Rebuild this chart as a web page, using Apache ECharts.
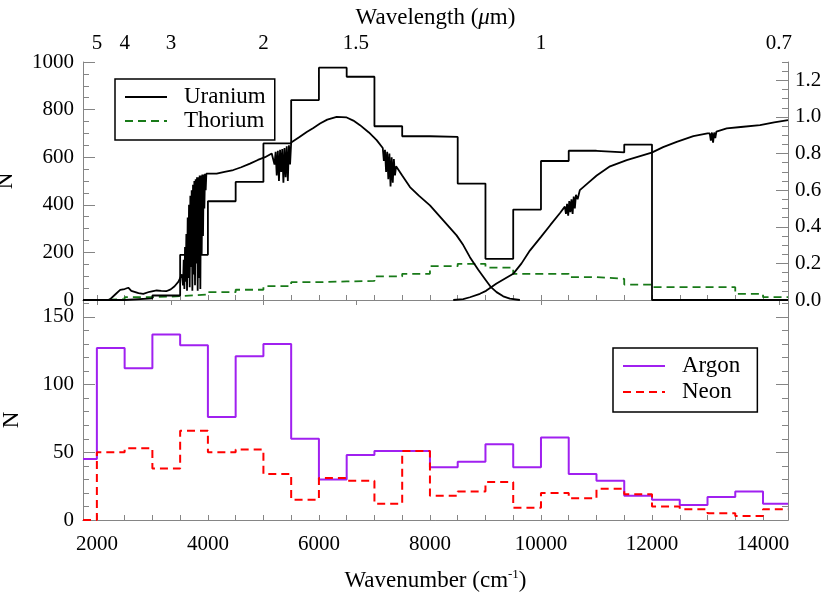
<!DOCTYPE html>
<html>
<head>
<meta charset="utf-8">
<script src="https://cdn.jsdelivr.net/npm/echarts@6/dist/echarts.min.js"></script>
<style>
  html, body { margin: 0; padding: 0; background: #fff; }
  #chart { width: 830px; height: 612px; }
</style>
</head>
<body>
<div id="chart"></div>
<script>
// wavenumber bin edges (cm^-1), 500 wide apart from the two end bins
const binEdges = [1750, 2000, 2500, 3000, 3500, 4000, 4500, 5000, 5500, 6000, 6500, 7000, 7500,
  8000, 8500, 9000, 9500, 10000, 10500, 11000, 11500, 12000, 12500, 13000, 13500, 14000, 14450];

// top panel: line counts per bin
const uranium = [0, 0, 7, 19, 190, 415, 496, 658, 840, 976, 938, 730, 688,
  685, 489, 173, 380, 584, 627, 620, 653, 0, 0, 0, 0, 0];
const thorium = [0, 3, 12, 16, 23, 33, 43, 58, 75, 78, 80, 99, 110,
  142, 152, 136, 110, 110, 96, 89, 65, 54, 54, 54, 26, 12];

// bottom panel: line counts per bin
const argon = [45, 127, 112, 137, 129, 76, 121, 130, 60, 30, 48, 51, 51,
  39, 43, 56, 39, 61, 34, 29, 18, 15, 11, 17, 21, 12];
const neon = [0, 50, 53, 38, 66, 50, 52, 34, 15, 31, 29, 12, 51,
  18, 21, 28, 9, 20, 16, 23, 19, 10, 8, 5, 3, 8];

// transmission curves (right axis), [wavenumber, throughput]
const transmissionA = [
  [1750, 0], [2200, 0], [2240, 0.005], [2330, 0.03], [2420, 0.055], [2500, 0.06], [2566, 0.067],
  [2620, 0.05], [2656, 0.043], [2750, 0.037], [2836, 0.034], [2950, 0.045], [3077, 0.052],
  [3160, 0.05], [3250, 0.048], [3330, 0.058], [3400, 0.075], [3470, 0.1], [3530, 0.14],
  [3540, 0.15], [3552, 0.08], [3564, 0.22], [3576, 0.06], [3588, 0.29], [3600, 0.1], [3612, 0.36],
  [3624, 0.05], [3636, 0.45], [3648, 0.12], [3660, 0.52], [3672, 0.07], [3684, 0.57], [3696, 0.18],
  [3708, 0.6], [3720, 0.05], [3732, 0.63], [3744, 0.14], [3756, 0.65], [3768, 0.08], [3780, 0.66],
  [3792, 0.2], [3804, 0.67], [3816, 0.05], [3828, 0.67], [3840, 0.12], [3852, 0.68], [3864, 0.06],
  [3876, 0.68], [3888, 0.25], [3900, 0.685], [3912, 0.35], [3924, 0.685], [3936, 0.5], [3948, 0.69],
  [3960, 0.6], [3972, 0.69],
  [4000, 0.69], [4158, 0.69], [4300, 0.7], [4458, 0.71], [4600, 0.725], [4758, 0.745],
  [4900, 0.765], [5029, 0.78], [5150, 0.8],
  [5180, 0.805], [5200, 0.74], [5220, 0.81], [5240, 0.68], [5260, 0.815], [5280, 0.65], [5300, 0.82],
  [5320, 0.7], [5340, 0.825], [5360, 0.64], [5380, 0.83], [5400, 0.67], [5420, 0.84], [5440, 0.65],
  [5460, 0.845], [5480, 0.74], [5500, 0.86],
  [5521, 0.868], [5650, 0.89], [5780, 0.918], [5900, 0.94], [6020, 0.964], [6150, 0.985],
  [6320, 1.0], [6500, 0.997], [6620, 0.98], [6740, 0.955], [6900, 0.915], [7040, 0.873],
  [7150, 0.83], [7170, 0.76], [7190, 0.82], [7210, 0.7], [7230, 0.81], [7250, 0.66], [7270, 0.8],
  [7290, 0.62], [7310, 0.78], [7330, 0.64], [7350, 0.77], [7370, 0.68], [7390, 0.73],
  [7500, 0.68], [7640, 0.617], [7800, 0.57], [8000, 0.517], [8240, 0.435], [8480, 0.353],
  [8600, 0.3], [8720, 0.234], [8870, 0.165], [9010, 0.107], [9100, 0.07], [9200, 0.043],
  [9320, 0.02], [9440, 0.007], [9620, 0]
];
const transmissionB = [
  [8420, 0], [8600, 0.005], [8720, 0.015], [8900, 0.034], [9010, 0.05], [9200, 0.09],
  [9500, 0.143], [9650, 0.2], [9800, 0.27], [10000, 0.345], [10170, 0.41], [10343, 0.475],
  [10430, 0.51], [10450, 0.47], [10470, 0.525], [10490, 0.46], [10510, 0.54], [10530, 0.48],
  [10550, 0.55], [10570, 0.47], [10590, 0.565], [10610, 0.5], [10630, 0.575], [10660, 0.55],
  [10700, 0.6], [10850, 0.64], [11004, 0.68], [11244, 0.73], [11545, 0.764], [11995, 0.805],
  [12200, 0.835], [12445, 0.864], [12745, 0.895], [13000, 0.91],
  [13040, 0.91], [13060, 0.87], [13080, 0.915], [13100, 0.86], [13120, 0.915], [13140, 0.885],
  [13160, 0.92],
  [13346, 0.937], [13600, 0.945], [13946, 0.955], [14200, 0.97], [14450, 0.982]
];

// tick positions
const wavenumberTicks = [];
for (let v = 2000; v <= 14000; v += 500) wavenumberTicks.push(v);
const wavenumberLabels = [2000, 4000, 6000, 8000, 10000, 12000, 14000];
const wavelengthLabels = [5, 4, 3, 2, 1.5, 1, 0.7]; // micron
const countLabelsTop = [0, 200, 400, 600, 800, 1000];
const throughputLabels = [0, 0.2, 0.4, 0.6, 0.8, 1.0, 1.2];
const countLabelsBottom = [0, 50, 100, 150];

const FONT = "'Liberation Serif', 'DejaVu Serif', serif";
const FRAME = '#858585';

function steps (vals) {
  const pts = vals.map((v, i) => [binEdges[i], v]);
  pts.push([binEdges[binEdges.length - 1], vals[vals.length - 1]]);
  return pts;
}
function every (a, b, s) {
  const out = [];
  for (let i = 0; a + i * s <= b + 1e-9; i++) out.push(+(a + i * s).toFixed(4));
  return out;
}

const X_MIN = 1750, X_MAX = 14450;
const axisLine = { show: true, lineStyle: { color: FRAME, width: 1 } };
const label = { fontFamily: FONT, fontSize: 21, color: '#000' };
const legendBase = {
  orient: 'vertical',
  itemWidth: 42, itemHeight: 14, itemGap: 0,
  borderColor: '#000', borderWidth: 1.5, borderRadius: 0,
  selectedMode: false,
  itemStyle: { opacity: 0 }
};

const option = {
  animation: false,
  backgroundColor: '#fff',
  grid: [
    { left: 83, right: 42, top: 62, height: 238, outerBoundsMode: 'none', containLabel: false },
    { left: 83, right: 42, top: 300, height: 220, outerBoundsMode: 'none', containLabel: false }
  ],
  legend: [
    Object.assign({
      data: ['Uranium', 'Thorium'],
      left: 115, top: 79,
      padding: [6, 9, 7, 9],
      textStyle: { fontFamily: FONT, fontSize: 23, color: '#000', lineHeight: 24, padding: [0, 0, 0, 12] }
    }, legendBase),
    Object.assign({
      data: ['Argon', 'Neon'],
      left: 613, top: 348,
      padding: [5, 17, 7, 9],
      textStyle: { fontFamily: FONT, fontSize: 23, color: '#000', lineHeight: 26, padding: [0, 0, 0, 12] }
    }, legendBase)
  ],
  xAxis: [
    { // top panel, bottom edge
      type: 'value', gridIndex: 0, position: 'bottom', min: X_MIN, max: X_MAX,
      axisLine: axisLine, splitLine: { show: false },
      axisTick: { show: true, inside: true, length: 5, customValues: wavenumberTicks, lineStyle: { color: FRAME } },
      axisLabel: { show: false }
    },
    { // top panel, wavelength scale
      type: 'value', gridIndex: 0, position: 'top', min: X_MIN, max: X_MAX,
      axisLine: axisLine, splitLine: { show: false },
      axisTick: { show: true, inside: true, length: 5, customValues: wavelengthLabels.map(l => 10000 / l), lineStyle: { color: FRAME } },
      axisLabel: Object.assign({ margin: 8, customValues: wavelengthLabels.map(l => 10000 / l),
        formatter: v => String(Math.round(100000 / v) / 10) }, label),
      name: 'Wavelength ({i|μ}m)', nameLocation: 'middle', nameGap: 33,
      nameTextStyle: { fontFamily: FONT, fontSize: 23, color: '#000',
        rich: { i: { fontFamily: FONT, fontSize: 23, fontStyle: 'italic', color: '#000' } } }
    },
    { // bottom panel, wavenumber
      type: 'value', gridIndex: 1, position: 'bottom', min: X_MIN, max: X_MAX,
      axisLine: axisLine, splitLine: { show: false },
      axisTick: { show: true, inside: true, length: 5, customValues: wavenumberTicks, lineStyle: { color: FRAME } },
      axisLabel: Object.assign({ margin: 14, customValues: wavenumberLabels, formatter: v => String(v) }, label),
      name: 'Wavenumber (cm{s|-1})', nameLocation: 'middle', nameGap: 48,
      nameTextStyle: { fontFamily: FONT, fontSize: 23, color: '#000',
        rich: { s: { fontFamily: FONT, fontSize: 13, color: '#000', padding: [0, 0, 12, 0] } } }
    },
    { // bottom panel, top edge
      type: 'value', gridIndex: 1, position: 'top', min: X_MIN, max: X_MAX,
      axisLine: axisLine, splitLine: { show: false }, axisTick: { show: false }, axisLabel: { show: false }
    }
  ],
  yAxis: [
    { // 0: top panel counts
      type: 'value', gridIndex: 0, position: 'left', min: 0, max: 1000,
      axisLine: axisLine, splitLine: { show: false },
      axisTick: { show: true, inside: true, length: 12, customValues: countLabelsTop, lineStyle: { color: FRAME } },
      axisLabel: Object.assign({ margin: 9, customValues: countLabelsTop, formatter: v => String(v) }, label),
      name: 'N', nameLocation: 'middle', nameGap: 66,
      nameTextStyle: { fontFamily: FONT, fontSize: 23, color: '#000' }
    },
    { // 1: top panel throughput
      type: 'value', gridIndex: 0, position: 'right', min: 0, max: 1.3,
      axisLine: axisLine, splitLine: { show: false },
      axisTick: { show: true, inside: true, length: 12, customValues: throughputLabels, lineStyle: { color: FRAME } },
      axisLabel: Object.assign({ margin: 7, customValues: throughputLabels, formatter: v => v.toFixed(1) }, label)
    },
    { // 2: top panel count minor ticks
      type: 'value', gridIndex: 0, position: 'left', min: 0, max: 1000,
      axisLine: { show: false }, splitLine: { show: false }, axisLabel: { show: false },
      axisTick: { show: true, inside: true, length: 6, customValues: every(0, 1000, 50), lineStyle: { color: FRAME } }
    },
    { // 3: top panel throughput minor ticks
      type: 'value', gridIndex: 0, position: 'right', min: 0, max: 1.3,
      axisLine: { show: false }, splitLine: { show: false }, axisLabel: { show: false },
      axisTick: { show: true, inside: true, length: 6, customValues: every(0, 1.3, 0.05), lineStyle: { color: FRAME } }
    },
    { // 4: bottom panel counts
      type: 'value', gridIndex: 1, position: 'left', min: 0, max: 162.5,
      axisLine: axisLine, splitLine: { show: false },
      axisTick: { show: true, inside: true, length: 12, customValues: countLabelsBottom, lineStyle: { color: FRAME } },
      axisLabel: Object.assign({ margin: 9, customValues: countLabelsBottom, formatter: v => String(v) }, label),
      name: 'N', nameLocation: 'middle', nameGap: 60,
      nameTextStyle: { fontFamily: FONT, fontSize: 23, color: '#000', padding: [0, 20, 0, 0] }
    },
    { // 5: bottom panel right edge
      type: 'value', gridIndex: 1, position: 'right', min: 0, max: 162.5,
      axisLine: axisLine, splitLine: { show: false }, axisLabel: { show: false },
      axisTick: { show: true, inside: true, length: 12, customValues: countLabelsBottom, lineStyle: { color: FRAME } }
    },
    { // 6: bottom panel left minor ticks
      type: 'value', gridIndex: 1, position: 'left', min: 0, max: 162.5,
      axisLine: { show: false }, splitLine: { show: false }, axisLabel: { show: false },
      axisTick: { show: true, inside: true, length: 6, customValues: every(0, 160, 10), lineStyle: { color: FRAME } }
    },
    { // 7: bottom panel right minor ticks
      type: 'value', gridIndex: 1, position: 'right', min: 0, max: 162.5,
      axisLine: { show: false }, splitLine: { show: false }, axisLabel: { show: false },
      axisTick: { show: true, inside: true, length: 6, customValues: every(0, 160, 10), lineStyle: { color: FRAME } }
    }
  ],
  series: [
    {
      name: 'Thorium', type: 'line', xAxisIndex: 0, yAxisIndex: 0, step: 'end',
      data: steps(thorium), symbol: 'none',
      lineStyle: { color: '#187a18', width: 1.8, type: [8, 5] }, itemStyle: { color: '#187a18' }
    },
    {
      name: 'Uranium', type: 'line', xAxisIndex: 0, yAxisIndex: 0, step: 'end',
      data: steps(uranium), symbol: 'none',
      lineStyle: { color: '#000', width: 1.8 }, itemStyle: { color: '#000' }
    },
    {
      name: 'transA', type: 'line', xAxisIndex: 0, yAxisIndex: 1,
      data: transmissionA, symbol: 'none',
      lineStyle: { color: '#000', width: 1.8 }
    },
    {
      name: 'transB', type: 'line', xAxisIndex: 0, yAxisIndex: 1,
      data: transmissionB, symbol: 'none',
      lineStyle: { color: '#000', width: 1.8 }
    },
    {
      name: 'Argon', type: 'line', xAxisIndex: 2, yAxisIndex: 4, step: 'end',
      data: steps(argon), symbol: 'none',
      lineStyle: { color: '#a020f0', width: 2 }, itemStyle: { color: '#a020f0' }
    },
    {
      name: 'Neon', type: 'line', xAxisIndex: 2, yAxisIndex: 4, step: 'end',
      data: steps(neon), symbol: 'none',
      lineStyle: { color: '#ff0000', width: 2, type: [8, 5] }, itemStyle: { color: '#ff0000' }
    }
  ]
};

const myChart = echarts.init(document.getElementById('chart'), null, { renderer: 'canvas' });
myChart.setOption(option);
</script>
</body>
</html>
